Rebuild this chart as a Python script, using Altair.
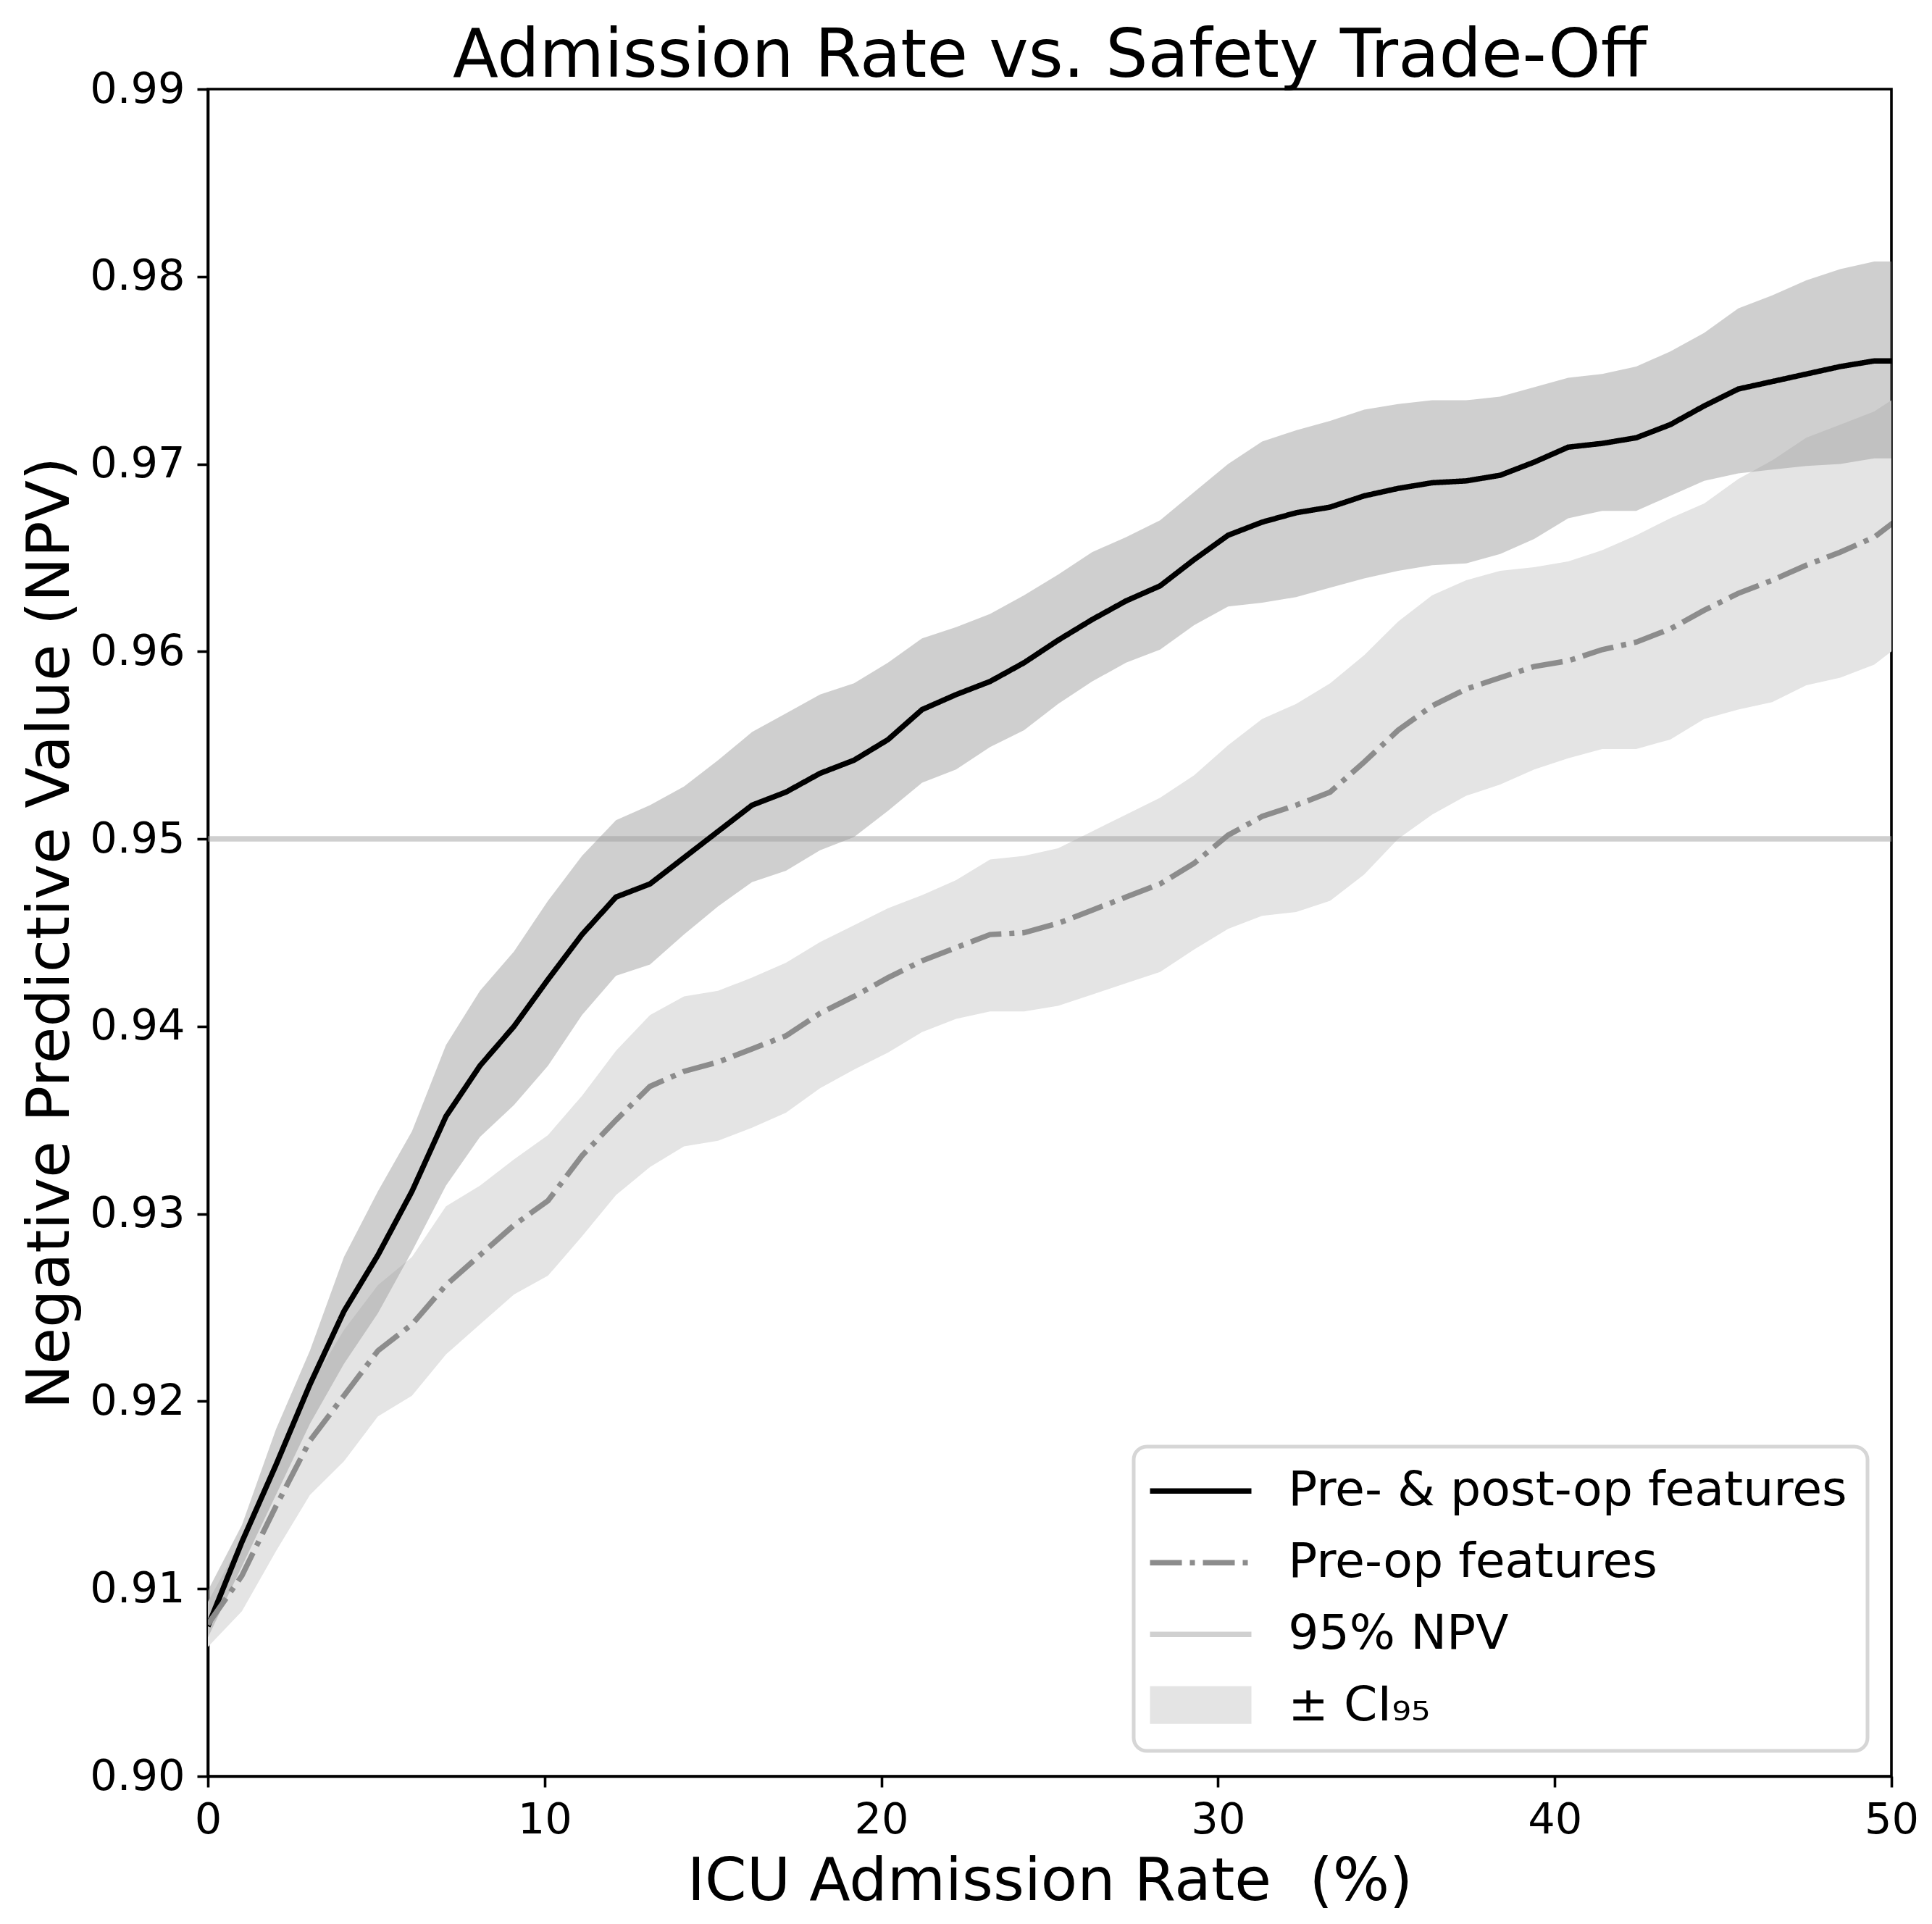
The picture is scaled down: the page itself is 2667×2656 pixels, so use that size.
import altair as alt
import pandas as pd

# ---------------- data ----------------
x_rate = [0, 1.01, 2.02, 3.03, 4.04, 5.05, 6.06, 7.07, 8.08, 9.09, 10.1, 11.11, 12.12,
          13.13, 14.14, 15.15, 16.16, 17.17, 18.18, 19.19, 20.2, 21.21, 22.22, 23.23,
          24.24, 25.25, 26.26, 27.27, 28.28, 29.29, 30.3, 31.31, 32.32, 33.33, 34.34,
          35.35, 36.36, 37.37, 38.38, 39.39, 40.4, 41.41, 42.42, 43.43, 44.44, 45.45,
          46.46, 47.47, 48.48, 49.49, 50.51]

npv_full = [0.9080, 0.9125, 0.9166, 0.9209, 0.9248, 0.9278, 0.9312, 0.9352, 0.9379, 0.9400,
            0.9425, 0.9449, 0.9469, 0.9476, 0.9490, 0.9504, 0.9518, 0.9525, 0.9535, 0.9542,
            0.9553, 0.9569, 0.9577, 0.9584, 0.9594, 0.9606, 0.9617, 0.9627, 0.9635, 0.9649,
            0.9662, 0.9669, 0.9674, 0.9677, 0.9683, 0.9687, 0.9690, 0.9691, 0.9694, 0.9701,
            0.9709, 0.9711, 0.9714, 0.9721, 0.9731, 0.9740, 0.9744, 0.9748, 0.9752, 0.9755,
            0.9755]
ci_full_lo = [0.9074, 0.9112, 0.9150, 0.9188, 0.9220, 0.9247, 0.9280, 0.9315, 0.9341, 0.9358,
              0.9379, 0.9406, 0.9427, 0.9433, 0.9449, 0.9464, 0.9477, 0.9483, 0.9494, 0.9501,
              0.9515, 0.9530, 0.9537, 0.9549, 0.9558, 0.9572, 0.9584, 0.9594, 0.9601, 0.9614,
              0.9624, 0.9626, 0.9629, 0.9634, 0.9639, 0.9643, 0.9646, 0.9647, 0.9652, 0.9660,
              0.9671, 0.9675, 0.9675, 0.9683, 0.9691, 0.9695, 0.9697, 0.9699, 0.9700, 0.9703,
              0.9703]
ci_full_hi = [0.9099, 0.9134, 0.9185, 0.9227, 0.9277, 0.9312, 0.9344, 0.9390, 0.9419, 0.9440,
              0.9467, 0.9491, 0.9510, 0.9518, 0.9528, 0.9542, 0.9557, 0.9567, 0.9577, 0.9583,
              0.9594, 0.9607, 0.9613, 0.9620, 0.9630, 0.9641, 0.9653, 0.9661, 0.9670, 0.9685,
              0.9700, 0.9712, 0.9718, 0.9723, 0.9729, 0.9732, 0.9734, 0.9734, 0.9736, 0.9741,
              0.9746, 0.9748, 0.9752, 0.9760, 0.9770, 0.9783, 0.9790, 0.9798, 0.9804, 0.9808,
              0.9808]

npv_pre = [0.9081, 0.9107, 0.9144, 0.9179, 0.9203, 0.9227, 0.9241, 0.9262, 0.9278, 0.9294,
           0.9307, 0.9331, 0.9350, 0.9368, 0.9376, 0.9381, 0.9388, 0.9395, 0.9407, 0.9416,
           0.9426, 0.9435, 0.9442, 0.9449, 0.9450, 0.9455, 0.9462, 0.9469, 0.9476, 0.9487,
           0.9502, 0.9512, 0.9518, 0.9525, 0.9541, 0.9558, 0.9571, 0.9580, 0.9586, 0.9592,
           0.9595, 0.9601, 0.9605, 0.9612, 0.9622, 0.9631, 0.9638, 0.9646, 0.9653, 0.9661,
           0.9675]
ci_pre_lo = [0.9069, 0.9088, 0.9120, 0.9150, 0.9168, 0.9192, 0.9203, 0.9225, 0.9241, 0.9257,
             0.9267, 0.9288, 0.9310, 0.9325, 0.9336, 0.9339, 0.9346, 0.9354, 0.9367, 0.9377,
             0.9386, 0.9397, 0.9404, 0.9408, 0.9408, 0.9411, 0.9417, 0.9423, 0.9429, 0.9441,
             0.9452, 0.9459, 0.9461, 0.9467, 0.9481, 0.9500, 0.9513, 0.9523, 0.9529, 0.9537,
             0.9543, 0.9548, 0.9548, 0.9553, 0.9564, 0.9569, 0.9573, 0.9582, 0.9586, 0.9593,
             0.9607]
ci_pre_hi = [0.9093, 0.9126, 0.9168, 0.9208, 0.9238, 0.9262, 0.9277, 0.9304, 0.9315, 0.9329,
             0.9342, 0.9363, 0.9387, 0.9406, 0.9416, 0.9419, 0.9426, 0.9434, 0.9445, 0.9454,
             0.9463, 0.9470, 0.9478, 0.9489, 0.9491, 0.9495, 0.9504, 0.9513, 0.9522, 0.9534,
             0.9550, 0.9564, 0.9572, 0.9583, 0.9598, 0.9616, 0.9630, 0.9638, 0.9643, 0.9645,
             0.9648, 0.9654, 0.9662, 0.9671, 0.9679, 0.9692, 0.9702, 0.9714, 0.9721, 0.9728,
             0.9740]

series_labels = ["Pre- & post-op features", "Pre-op features", "95% NPV", "± CI₉₅"]
npv_threshold = [0.95]
x_ticks = [0, 10, 20, 30, 40, 50]
y_ticks = [0.90, 0.91, 0.92, 0.93, 0.94, 0.95, 0.96, 0.97, 0.98, 0.99]

# ---------------- styling ----------------
FONT = "DejaVu Sans"
W, H = 2324, 2329
LW = 7.5
LEG_FONT = 66.5
LEG_X, LEG_Y, LEG_PAD, ROW_PAD = 1278, 1874, 28, 32
SYM_OFF, LAB_OFF = 31.25, 87.5

bands = pd.DataFrame({"x": x_rate, "lo1": ci_full_lo, "hi1": ci_full_hi,
                      "lo2": ci_pre_lo, "hi2": ci_pre_hi,
                      "ci": [series_labels[3]] * len(x_rate)})
lines = pd.DataFrame({
    "x": x_rate + x_rate,
    "npv": npv_full + npv_pre,
    "series": [series_labels[0]] * len(x_rate) + [series_labels[1]] * len(x_rate),
})
rule_df = pd.DataFrame({"npv": npv_threshold})

xs = alt.Scale(domain=[0, 50], nice=False, zero=False)
ys = alt.Scale(domain=[0.90, 0.99], nice=False, zero=False)

xaxis = alt.Axis(values=x_ticks, title="ICU Admission Rate \u00a0(%)", labelFlush=False,
                 labelPadding=16, titleX=W / 2, titleY=170, titleAlign="center",
                 titleBaseline="alphabetic", labelOverlap=False)
yaxis = alt.Axis(values=y_ticks, format=".2f", title="Negative Predictive Value (NPV)",
                 labelFlush=False, labelPadding=17, titleAngle=270, titleX=-193,
                 titleY=H / 2, titleAlign="center", titleBaseline="alphabetic",
                 labelOverlap=False)

X = alt.X("x:Q", scale=xs, axis=xaxis)
Y = alt.Y("npv:Q", scale=ys, axis=yaxis)

# legend for the CI band: only its swatch is shown, placed on the 4th row of the main legend
legend_ci = alt.Legend(
    title=None, orient="none", legendX=LEG_X + LEG_PAD,
    legendY=LEG_Y + LEG_PAD + 3 * (LEG_FONT + ROW_PAD), padding=0,
    labelFont=FONT, labelFontSize=LEG_FONT, labelOpacity=0, labelLimit=3000,
    labelOffset=LAB_OFF, symbolOffset=SYM_OFF, symbolSize=100,
    symbolType="M-14,-5.2H14V5.2H-14Z", zindex=2,
)

band_pre = alt.Chart(bands).mark_area(clip=True, opacity=1).encode(
    x=X, y=alt.Y("lo2:Q", scale=ys, axis=yaxis), y2="hi2:Q",
    fill=alt.Fill("ci:N", scale=alt.Scale(domain=[series_labels[3]], range=["#e4e4e4"]),
                  legend=legend_ci),
)
band_full = alt.Chart(bands).mark_area(clip=True, color="rgb(155,155,155)", opacity=0.478).encode(
    x=X, y=alt.Y("lo1:Q", scale=ys, axis=yaxis), y2="hi1:Q")
rule = alt.Chart(rule_df).mark_rule(color="rgb(160,160,160)", opacity=0.5, strokeWidth=LW).encode(
    y=Y)

legend_main = alt.Legend(
    title=None, orient="none", legendX=LEG_X, legendY=LEG_Y,
    labelFont=FONT, labelFontSize=LEG_FONT, labelColor="black", labelLimit=3000,
    labelOffset=LAB_OFF, symbolOffset=SYM_OFF, symbolSize=100, symbolStrokeWidth=LW,
    symbolType="M-14,0H14", rowPadding=ROW_PAD, padding=LEG_PAD,
    fillColor="rgba(255,255,255,0.8)", strokeColor="#d6d6d6", cornerRadius=18, zindex=1,
)

line_layer = alt.Chart(lines).mark_line(clip=True, strokeWidth=LW).encode(
    x=X, y=Y,
    color=alt.Color("series:N",
                    scale=alt.Scale(domain=series_labels,
                                    range=["#000000", "#8c8c8c", "#d0d0d0", "rgba(0,0,0,0)"]),
                    legend=legend_main),
    strokeDash=alt.StrokeDash("series:N",
                              scale=alt.Scale(domain=series_labels,
                                              range=[[1, 0], [44, 11, 7, 11], [1, 0], [1, 0]]),
                              legend=legend_main),
)

chart = alt.layer(band_pre, band_full, rule, line_layer).properties(
    width=W, height=H,
    autosize=alt.AutoSizeParams(type="none"),
    padding={"left": 279, "top": 115, "right": 40, "bottom": 190},
    title=alt.Title("Admission Rate vs. Safety Trade-Off", font=FONT, fontSize=92,
                    fontWeight="normal", color="black", anchor="middle", offset=5,
                    baseline="alphabetic", dy=109),
).configure_view(
    stroke="black", strokeWidth=3.6
).configure_axis(
    domainColor="black", domainWidth=3.6, tickColor="black", tickWidth=3.6, tickSize=15,
    labelFont=FONT, labelFontSize=59, labelColor="black",
    titleFont=FONT, titleFontSize=82.5, titleFontWeight="normal", titleColor="black",
    grid=False,
).configure_legend(
    strokeWidth=5
)

chart.save("out.html", embed_options={"renderer": "svg", "actions": False})
